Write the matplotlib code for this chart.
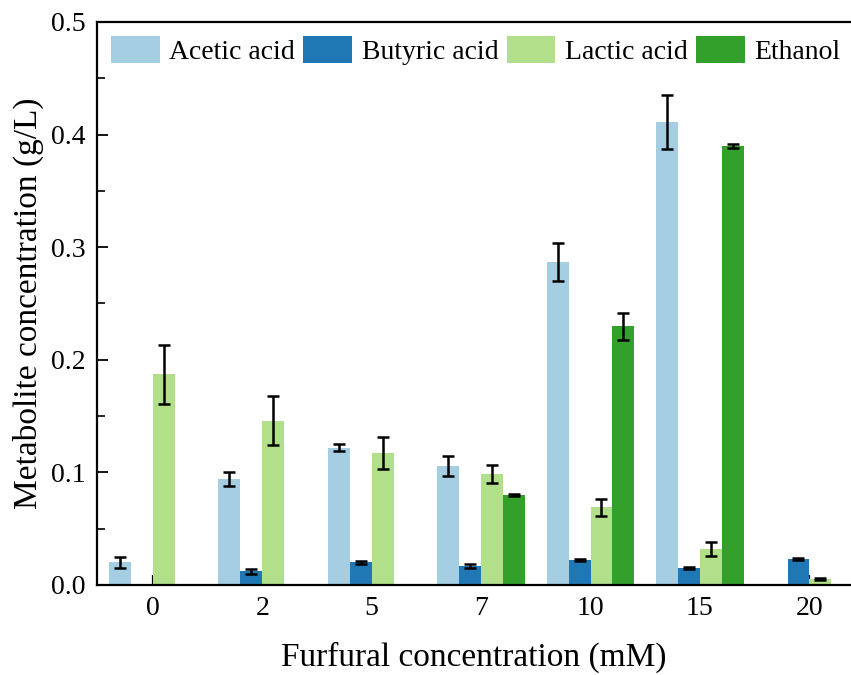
import numpy as np
import matplotlib
matplotlib.use("Agg")
import matplotlib.pyplot as plt
from matplotlib.ticker import MultipleLocator

plt.rcParams['font.family'] = ['Liberation Serif', 'DejaVu Serif']
plt.rcParams['mathtext.fontset'] = 'stix'

categories = ['0', '2', '5', '7', '10', '15', '20']
series = ['Acetic acid', 'Butyric acid', 'Lactic acid', 'Ethanol']
colors = ['#a6cee3', '#1f78b4', '#b2df8a', '#33a02c']

acetic = [0.020, 0.094, 0.122, 0.106, 0.287, 0.411, 0.0]
acetic_err = [0.005, 0.006, 0.003, 0.009, 0.017, 0.024, np.nan]
butyric = [0.0, 0.012, 0.020, 0.017, 0.022, 0.015, 0.023]
butyric_err = [np.nan, 0.002, 0.0015, 0.0015, 0.001, 0.0012, 0.0012]
lactic = [0.187, 0.146, 0.117, 0.099, 0.069, 0.032, 0.005]
lactic_err = [0.026, 0.022, 0.014, 0.008, 0.0075, 0.0065, 0.0008]
ethanol = [0.0, 0.0, 0.0, 0.080, 0.230, 0.390, 0.0]
ethanol_err = [np.nan, np.nan, np.nan, 0.0012, 0.012, 0.0018, np.nan]

values = [acetic, butyric, lactic, ethanol]
errors = [acetic_err, butyric_err, lactic_err, ethanol_err]

fig = plt.figure(figsize=(8.51, 6.75), dpi=100)
ax = fig.add_axes([97/851, 1-585/675, 1-97/851, (585-22)/675])

x = np.arange(len(categories))
w = 0.2
offsets = [-1.5, -0.5, 0.5, 1.5]
for vals, errs, col, lab, off in zip(values, errors, colors, series, offsets):
    ax.bar(x + off*w, vals, width=w, color=col, label=lab, edgecolor='none', zorder=2)
    ax.errorbar(x + off*w, vals, yerr=errs, fmt='none', ecolor='black',
                elinewidth=1.8, capsize=4.5, capthick=1.8, zorder=3)

ax.set_xlim(-0.51, 6.38)
ax.set_ylim(0, 0.5)
ax.set_xticks(x)
ax.set_xticklabels(categories)
ax.yaxis.set_major_locator(MultipleLocator(0.1))
ax.yaxis.set_minor_locator(MultipleLocator(0.05))
ax.yaxis.set_major_formatter(matplotlib.ticker.FormatStrFormatter('%.1f'))

for s in ['left', 'bottom', 'top']:
    ax.spines[s].set_linewidth(1.6)
ax.spines['right'].set_visible(False)

ax.tick_params(axis='both', which='major', direction='in', length=8, width=1.3,
               labelsize=20, pad=8)
ax.tick_params(axis='y', which='minor', direction='in', length=5.5, width=1.2)
ax.tick_params(axis='x', which='major', length=7, width=1.6)

ax.set_xlabel('Furfural concentration (mM)', fontsize=24, labelpad=15)
ax.set_ylabel('Metabolite concentration (g/L)', fontsize=24, labelpad=5)

ax.legend(loc='upper left', ncol=4, frameon=False, fontsize=20,
          handlelength=1.75, handleheight=1.15, handletextpad=0.35,
          columnspacing=0.3, borderaxespad=0.3, borderpad=0.2)

fig.savefig('out.png', dpi=100)
